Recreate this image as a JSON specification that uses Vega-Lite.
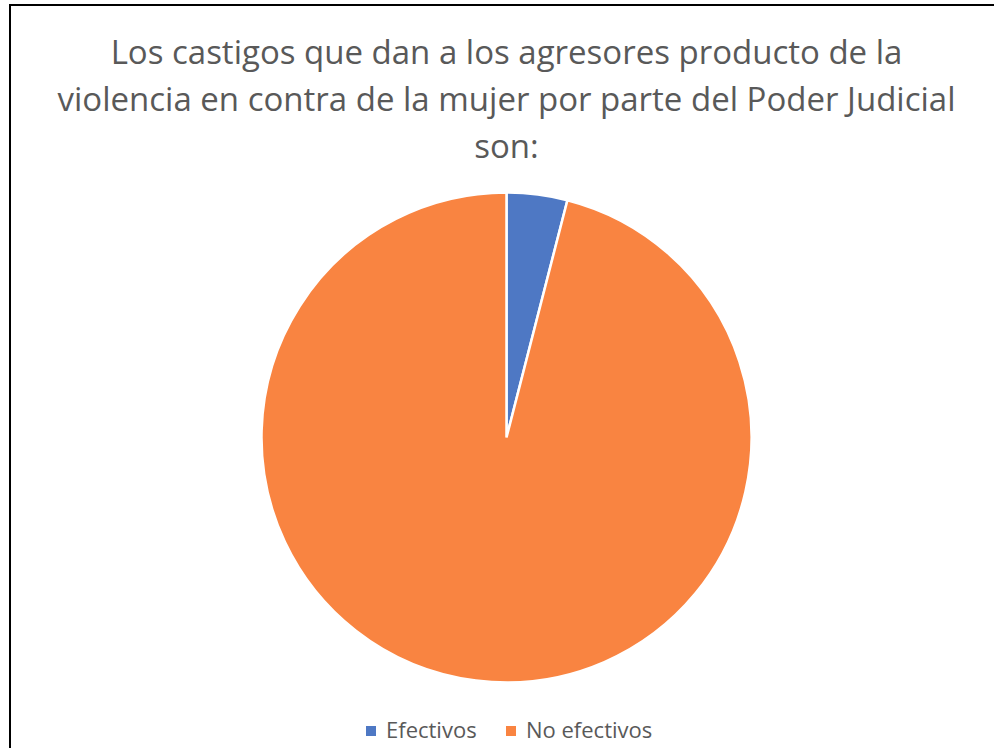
{
  "$schema": "https://vega.github.io/schema/vega-lite/v6.json",
  "autosize": "none",
  "padding": {"left": 10, "top": 5, "right": 0, "bottom": 0},
  "width": 993,
  "height": 865,
  "background": "white",
  "view": {"stroke": "black", "strokeWidth": 2},
  "config": {
    "font": "Open Sans"
  },
  "title": {
    "text": ["Los castigos que dan a los agresores producto de la", "violencia en contra de la mujer por parte del Poder Judicial", "son:"],
    "orient": "top",
    "anchor": "middle",
    "frame": "group",
    "offset": -161,
    "font": "Open Sans",
    "fontSize": 33,
    "fontWeight": "normal",
    "color": "#595959",
    "lineHeight": 47
  },
  "data": {
    "values": [
      {"categoria": "Efectivos", "valor": 4},
      {"categoria": "No efectivos", "valor": 96}
    ]
  },
  "layer": [
    {
      "mark": {"type": "rect", "fill": null, "fillOpacity": 0, "stroke": "black", "strokeWidth": 2},
      "encoding": {}
    },
    {
      "mark": {"type": "arc", "outerRadius": 245, "stroke": "white", "strokeWidth": 2.5},
      "encoding": {
        "theta": {"field": "valor", "type": "quantitative", "stack": true},
        "order": {"field": "categoria", "type": "nominal", "sort": "ascending"},
        "color": {
          "field": "categoria",
          "type": "nominal",
          "scale": {"domain": ["Efectivos", "No efectivos"], "range": ["#4E78C4", "#F98441"]},
          "legend": {
            "title": null,
            "orient": "none",
            "direction": "horizontal",
            "legendX": 350,
            "legendY": 715,
            "symbolType": "square",
            "symbolSize": 100,
            "symbolStrokeWidth": 0,
            "labelFontSize": 22,
            "labelColor": "#595959",
            "labelFont": "Open Sans",
            "columnPadding": 23,
            "labelOffset": 4
          }
        }
      }
    }
  ]
}
